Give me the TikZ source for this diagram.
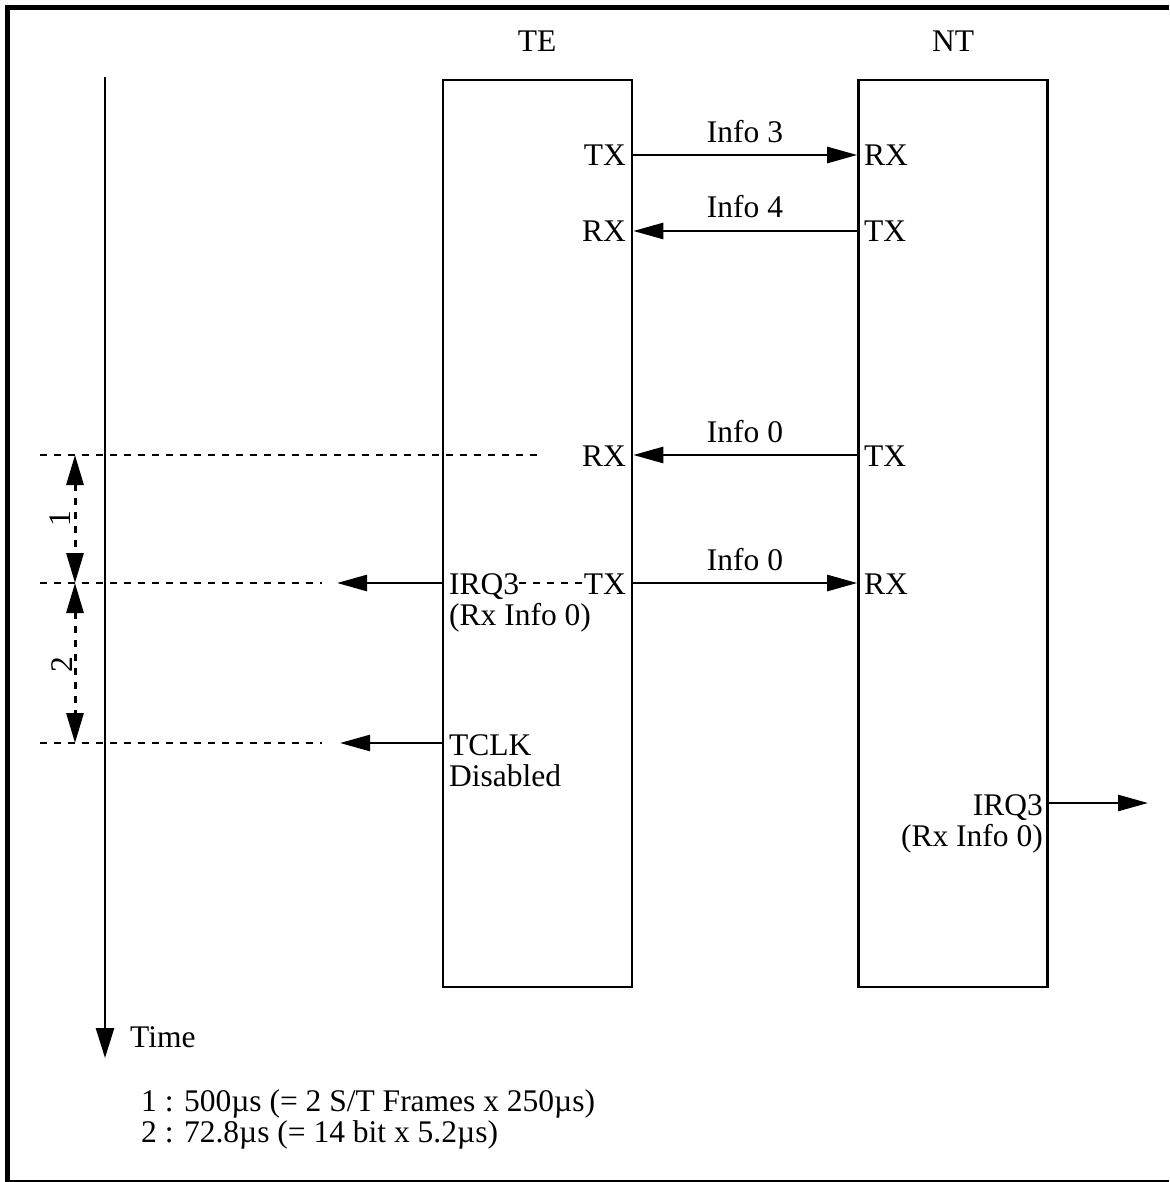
\documentclass[tikz,border=0pt]{standalone}
\usepackage{fontspec}
\setmainfont{Liberation Serif}
\usetikzlibrary{arrows.meta}
\begin{document}
\begin{tikzpicture}[x=1pt,y=-1pt,
  lbl/.style={inner sep=0pt, font=\fontsize{31.5}{35}\selectfont},
  box/.style={draw, line width=2.6pt, minimum width=189pt, minimum height=907pt, inner sep=0pt},
  sig/.style={line width=2.6pt, -{Triangle[length=30pt,width=16pt]}},
  dotl/.style={line width=2.6pt, dash pattern=on 7pt off 7pt},
  dim/.style={line width=3pt, dash pattern=on 7pt off 7pt, {Triangle[length=30pt,width=17pt]}-{Triangle[length=30pt,width=17pt]}}
]
\useasboundingbox (0,0) rectangle (1169,1182);
% frame
\draw[line width=5pt] (7.5,1182) -- (7.5,7.5) -- (1169,7.5);
\draw[line width=2pt] (5,1181) -- (1169,1181);

% boxes
\node[box] (te) at (537.5,533.5) {};
\node[box] (nt) at (953,533.5) {};
\node[lbl, anchor=base] (tet) at (537,52) {TE};
\node[lbl, anchor=base] (ntt) at (953,52) {NT};

% time axis
\coordinate (t0) at (105,77);
\coordinate (t1) at (105,1058);
\draw[line width=2.6pt, -{Triangle[length=30pt,width=18pt]}] (t0) -- (t1);
\node[lbl, anchor=base west] (time) at (130,1047) {Time};
\node[lbl, anchor=base west] (n1) at (141,1111) {1 : 500µs (= 2 S/T Frames x 250µs)};
\node[lbl, anchor=base west] (n2) at (141,1142) {2 : 72.8µs (= 14 bit x 5.2µs)};

% port labels
\node[lbl, anchor=base east] (tetx1) at (626,166) {TX};
\node[lbl, anchor=base west] (ntrx1) at (864,166) {RX};
\node[lbl, anchor=base east] (terx2) at (626,241) {RX};
\node[lbl, anchor=base west] (nttx2) at (864,241) {TX};
\node[lbl, anchor=base east] (terx3) at (626,466) {RX};
\node[lbl, anchor=base west] (nttx3) at (864,466) {TX};
\node[lbl, anchor=base east] (tetx4) at (626,594) {TX};
\node[lbl, anchor=base west] (ntrx4) at (864,594) {RX};

% signal labels
\node[lbl, anchor=base] (i3) at (745,143) {Info 3};
\node[lbl, anchor=base] (i4) at (745,218) {Info 4};
\node[lbl, anchor=base] (i0a) at (745,442) {Info 0};
\node[lbl, anchor=base] (i0b) at (745,570) {Info 0};

% signals
\draw[sig] (te.east |- 0,155) -- (nt.west |- 0,155);
\draw[sig] (nt.west |- 0,231) -- (te.east |- 0,231);
\draw[sig] (nt.west |- 0,455) -- (te.east |- 0,455);
\draw[sig] (te.east |- 0,583) -- (nt.west |- 0,583);

% TE side events
\node[lbl, anchor=base west] (irq) at (449,594) {IRQ3};
\node[lbl, anchor=base west] (irqb) at (449,625) {(Rx Info 0)};
\draw[dotl] (irq.east |- 0,583) -- (tetx4.west |- 0,583);
\node[lbl, anchor=base west] (tclk) at (449,755) {TCLK};
\node[lbl, anchor=base west] (dis) at (449,786) {Disabled};
\coordinate (a1) at (337,583);
\coordinate (a2) at (340,743);
\draw[sig] (te.west |- a1) -- (a1);
\draw[sig] (te.west |- a2) -- (a2);

% NT side event
\node[lbl, anchor=base east] (nirq) at (1043,815) {IRQ3};
\node[lbl, anchor=base east] (nirqb) at (1043,846) {(Rx Info 0)};
\coordinate (a3) at (1148,803);
\draw[sig] (nt.east |- a3) -- (a3);

% dotted reference lines
\coordinate (d1s) at (40,455); \coordinate (d1e) at (542,455);
\coordinate (d2s) at (40,583); \coordinate (d2e) at (322,583);
\coordinate (d3s) at (40,743); \coordinate (d3e) at (322,743);
\draw[dotl] (d1s) -- (d1e);
\draw[dotl] (d2s) -- (d2e);
\draw[dotl] (d3s) -- (d3e);

% dimensions
\coordinate (m1) at (75,455);
\coordinate (m2) at (75,583);
\coordinate (m3) at (75,743);
\draw[dim] (m1) -- (m2);
\draw[dim] (m2) -- (m3);
\node[lbl, anchor=base, rotate=90] (l1) at (70,519) {1};
\node[lbl, anchor=base, rotate=90] (l2) at (72,665) {2};
\end{tikzpicture}
\end{document}
